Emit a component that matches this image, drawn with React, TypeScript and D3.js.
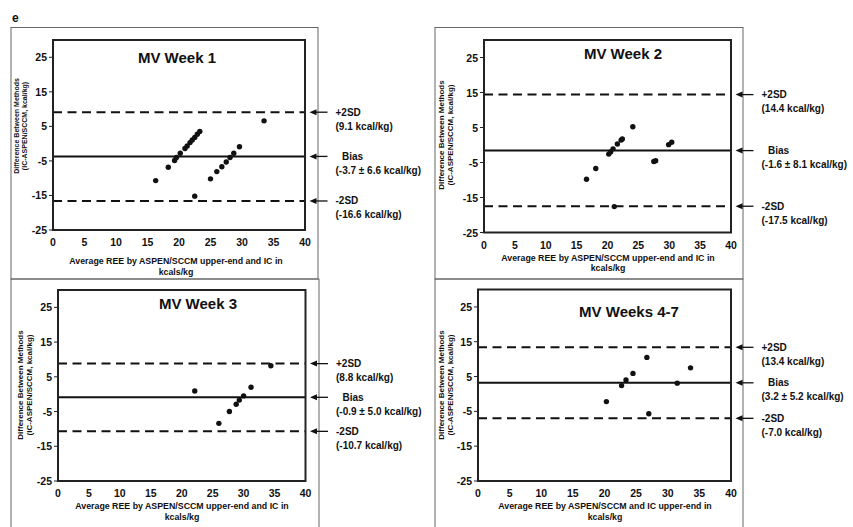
import React from "react";
import * as d3 from "d3";

// ---------- data ----------
const week1Points: [number, number][] = [
  [16.3, -10.7], [18.3, -6.85], [19.3, -4.9], [19.6, -4.0], [20.2, -2.8],
  [20.95, -1.4], [21.3, -0.7], [21.75, 0.3], [22.1, 1.05], [22.5, 1.8],
  [22.9, 2.7], [23.3, 3.5], [22.5, -15.2], [25.0, -10.2], [26.0, -8.1],
  [26.8, -6.7], [27.5, -5.3], [28.1, -4.0], [28.7, -2.8], [29.6, -0.9],
  [33.5, 6.6],
];
const week2Points: [number, number][] = [
  [16.6, -9.8], [18.1, -6.7], [20.2, -2.6], [20.5, -2.0], [20.9, -1.1],
  [21.6, 0.3], [22.2, 1.4], [22.4, 1.7], [24.1, 5.2], [27.5, -4.7],
  [27.8, -4.5], [29.9, 0.1], [30.4, 0.8], [21.1, -17.6],
];
const week3Points: [number, number][] = [
  [22.1, 0.9], [26.0, -8.4], [27.7, -5.0], [28.8, -2.9], [29.3, -1.7],
  [30.0, -0.5], [31.2, 2.0], [34.4, 8.2],
];
const week47Points: [number, number][] = [
  [20.3, -2.2], [22.7, 2.4], [23.4, 4.0], [24.5, 5.9], [26.7, 10.5],
  [27.0, -5.7], [31.5, 3.1], [33.6, 7.5],
];

// [+2SD, bias, -2SD]
const week1Limits = [9.1, -3.7, -16.6];
const week2Limits = [14.4, -1.6, -17.5];
const week3Limits = [8.8, -0.9, -10.7];
const week47Limits = [13.4, 3.2, -7.0];

const week1Notes = ["(9.1 kcal/kg)", "(-3.7 ± 6.6 kcal/kg)", "(-16.6 kcal/kg)"];
const week2Notes = ["(14.4 kcal/kg)", "(-1.6 ± 8.1 kcal/kg)", "(-17.5 kcal/kg)"];
const week3Notes = ["(8.8 kcal/kg)", "(-0.9 ± 5.0 kcal/kg)", "(-10.7 kcal/kg)"];
const week47Notes = ["(13.4 kcal/kg)", "(3.2 ± 5.2 kcal/kg)", "(-7.0 kcal/kg)"];

const panelTitles = ["MV Week 1", "MV Week 2", "MV Week 3", "MV Weeks 4-7"];
const xTitlesLine1 = [
  "Average REE by ASPEN/SCCM upper-end and IC in",
  "Average REE by ASPEN/SCCM upper-end and IC in",
  "Average REE by ASPEN/SCCM upper-end and IC in",
  "Average REE by ASPEN/SCCM and IC upper-end in",
];
const xTitleLine2 = "kcals/kg";
const yTitleLine1 = "Difference Between Methods";
const yTitleLine2 = "(IC-ASPEN/SCCM, kcal/kg)";
const lineLabels = ["+2SD", "Bias", "-2SD"];

const xTicks = [0, 5, 10, 15, 20, 25, 30, 35, 40];
const yTicks = [25, 15, 5, -5, -15, -25];
const xDomain = [0, 40];
const yDomain = [-25, 30];

// ---------- layout ----------
type Layout = {
  px0: number; px1: number; py0: number; py1: number;
  bx0: number; bx1: number; by0: number; by1: number;
  titleX: number; titleY: number;
  yt1: number; yt2: number; ytCy: number; ytSize: number;
  xtCx: number; xt1: number; xt2: number;
};

const layouts: Layout[] = [
  { px0: 53, px1: 305, py0: 40, py1: 230, bx0: 11, bx1: 318, by0: 27.5, by1: 279,
    titleX: 177, titleY: 57, yt1: 16, yt2: 24, ytCy: 126, ytSize: 7,
    xtCx: 176, xt1: 261, xt2: 272 },
  { px0: 484, px1: 731, py0: 40, py1: 232.5, bx0: 435, bx1: 743, by0: 27.5, by1: 279,
    titleX: 623, titleY: 53, yt1: 441.5, yt2: 450, ytCy: 135, ytSize: 8,
    xtCx: 608, xt1: 258, xt2: 268 },
  { px0: 58, px1: 305.5, py0: 290, py1: 481, bx0: 11, bx1: 319, by0: 279, by1: 540,
    titleX: 198, titleY: 303, yt1: 20, yt2: 29, ytCy: 385, ytSize: 8,
    xtCx: 182, xt1: 506, xt2: 517 },
  { px0: 478, px1: 731, py0: 289.5, py1: 481, bx0: 435, bx1: 743, by0: 279, by1: 540,
    titleX: 629, titleY: 311, yt1: 441, yt2: 450, ytCy: 385, ytSize: 8,
    xtCx: 605, xt1: 506, xt2: 517 },
];

const pointsAll = [week1Points, week2Points, week3Points, week47Points];
const limitsAll = [week1Limits, week2Limits, week3Limits, week47Limits];
const notesAll = [week1Notes, week2Notes, week3Notes, week47Notes];

const FONT = "'Liberation Sans', Arial, Helvetica, sans-serif";
const INK = "#111";

function Panel({ i }: { i: number }) {
  const L = layouts[i];
  const x = d3.scaleLinear().domain(xDomain).range([L.px0, L.px1]);
  const y = d3.scaleLinear().domain(yDomain).range([L.py1, L.py0]);
  const pts = pointsAll[i];
  const lims = limitsAll[i];
  const notes = notesAll[i];
  const headX = L.px1 + 4.5;
  const tailX = L.px1 + 22.5;
  return (
    <g>
      <rect x={L.bx0} y={L.by0} width={L.bx1 - L.bx0} height={L.by1 - L.by0}
        fill="none" stroke="#666" strokeWidth={1} />
      <text x={L.titleX} y={L.titleY} textAnchor="middle" dominantBaseline="central"
        fontSize={15} fontWeight="bold" fill={INK}>{panelTitles[i]}</text>
      {lims.map((v, k) => (
        <line key={"l" + k} x1={L.px0} x2={L.px1} y1={y(v)} y2={y(v)}
          stroke={INK} strokeWidth={2}
          strokeDasharray={k === 1 ? undefined : "9,5.5"} />
      ))}
      {pts.map((p, k) => (
        <circle key={"p" + k} cx={x(p[0])} cy={y(p[1])} r={2.7} fill={INK} />
      ))}
      <rect x={L.px0} y={L.py0} width={L.px1 - L.px0} height={L.py1 - L.py0}
        fill="none" stroke="#222" strokeWidth={2} />
      {yTicks.map((t) => (
        <g key={"yt" + t}>
          <line x1={L.px0 - 4} x2={L.px0} y1={y(t)} y2={y(t)} stroke="#222" strokeWidth={1} />
          <text x={L.px0 - 6} y={y(t)} textAnchor="end" dominantBaseline="central"
            fontSize={10.5} fontWeight="bold" fill={INK}>{t}</text>
        </g>
      ))}
      {xTicks.map((t) => (
        <text key={"xt" + t} x={x(t)} y={L.py1 + 12} textAnchor="middle" dominantBaseline="central"
          fontSize={10.5} fontWeight="bold" fill={INK}>{t}</text>
      ))}
      <text x={L.xtCx} y={L.xt1} textAnchor="middle" dominantBaseline="central"
        fontSize={8.8} fontWeight="bold" fill={INK}>{xTitlesLine1[i]}</text>
      <text x={L.xtCx} y={L.xt2} textAnchor="middle" dominantBaseline="central"
        fontSize={8.8} fontWeight="bold" fill={INK}>{xTitleLine2}</text>
      <text transform={`translate(${L.yt1},${L.ytCy}) rotate(-90)`} textAnchor="middle"
        dominantBaseline="central" fontSize={L.ytSize} fontWeight="bold" fill={INK}>{yTitleLine1}</text>
      <text transform={`translate(${L.yt2},${L.ytCy}) rotate(-90)`} textAnchor="middle"
        dominantBaseline="central" fontSize={L.ytSize} fontWeight="bold" fill={INK}>{yTitleLine2}</text>
      {lims.map((v, k) => (
        <g key={"a" + k}>
          <line x1={headX + 5} x2={tailX} y1={y(v)} y2={y(v)} stroke={INK} strokeWidth={1.3} />
          <path d={`M${headX},${y(v)} L${headX + 7},${y(v) - 3} L${headX + 7},${y(v) + 3} Z`} fill={INK} />
          <text x={L.px1 + (k === 1 ? 37 : 30.5)} y={y(v)} dominantBaseline="central"
            fontSize={10} fontWeight="bold" fill={INK}>{lineLabels[k]}</text>
          <text x={L.px1 + 30.5} y={y(v) + 14} dominantBaseline="central"
            fontSize={10} fontWeight="bold" fill={INK}>{notes[k]}</text>
        </g>
      ))}
    </g>
  );
}

export default function App() {
  return (
    <svg width={853} height={527} viewBox="0 0 853 527"
      style={{ position: "absolute", left: 0, top: 0, background: "#fff" }}
      fontFamily={FONT}>
      <rect x={0} y={0} width={853} height={527} fill="#fff" />
      <text x={12} y={18} dominantBaseline="central" fontSize={12} fontWeight="bold" fill={INK}>e</text>
      {[0, 1, 2, 3].map((i) => <Panel key={i} i={i} />)}
    </svg>
  );
}
